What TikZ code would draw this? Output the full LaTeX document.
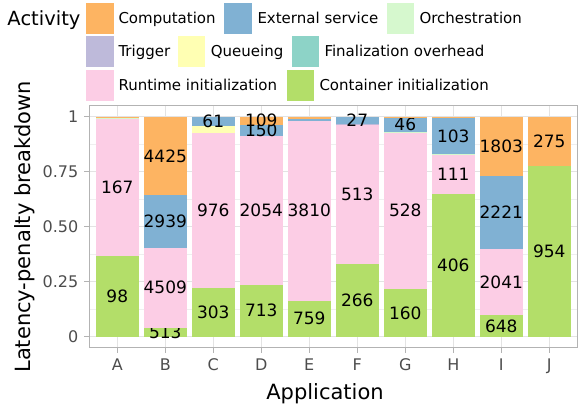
\documentclass[tikz,border=0pt]{standalone}
\usepackage{fontspec}
\setmainfont{DejaVu Sans}
\definecolor{ccomp}{HTML}{FDB462}
\definecolor{cext}{HTML}{80B1D3}
\definecolor{corch}{HTML}{D6F8CE}
\definecolor{ctrig}{HTML}{BEBADA}
\definecolor{cqueue}{HTML}{FFFFB3}
\definecolor{cfinal}{HTML}{8DD3C7}
\definecolor{crun}{HTML}{FCCDE5}
\definecolor{ccont}{HTML}{B3DE69}
\definecolor{gridmaj}{HTML}{E3E3E3}
\definecolor{gridmin}{HTML}{EFEFEF}
\definecolor{bordergray}{HTML}{B3B3B3}
\definecolor{ticktext}{HTML}{4D4D4D}
\newcommand\barat[1]{\pgfmathsetmacro\xl{117.3+48*#1-21.6}\pgfmathsetmacro\xr{117.3+48*#1+21.6}\pgfmathsetmacro\xc{117.3+48*#1}\def\cumv{0}}
\newcommand\settot[1]{\pgfmathsetmacro\tot{#1}}
\newcommand\segm[2]{%
  \pgfmathsetmacro\ya{336.7-220*(\cumv/\tot)}%
  \pgfmathsetmacro\cumnew{\cumv+#2}%
  \pgfmathsetmacro\yb{336.7-220*(\cumnew/\tot)}%
  \fill[#1] (\xl,\ya) rectangle (\xr,\yb);%
  \let\cumv\cumnew}
\newcommand\segl[3]{%
  \segm{#1}{#2}%
  \pgfmathsetmacro\ym{(\ya+\yb)/2+6.2}%
  \node[barlabel] (#3) at (\xc,\ym) {#2};}
\begin{document}
\begin{tikzpicture}[x=1pt,y=-1pt,
  barlabel/.style={font=\fontsize{17}{17}\selectfont, anchor=base, inner sep=0pt},
  legtext/.style={font=\fontsize{15}{15}\selectfont, anchor=base west, inner sep=0pt},
  legkey/.style={minimum width=27.3pt, minimum height=31pt, inner sep=0pt, anchor=north west},
  ticklab/.style={font=\fontsize{16}{16}\selectfont, text=ticktext, inner sep=0pt},
  axtitle/.style={font=\fontsize{21}{21}\selectfont, inner sep=0pt},
  gridmajor/.style={draw=gridmaj, line width=1pt},
  gridminor/.style={draw=gridmin, line width=0.7pt},
  tickmark/.style={draw=bordergray, line width=1pt}]
\useasboundingbox (0,0) rectangle (579,407);
% grid
\foreach \f in {0.125,0.375,0.625,0.875} \draw[gridminor] (89.3,{336.7-220*\f}) -- (577.3,{336.7-220*\f});
\foreach \f in {0,0.25,0.5,0.75,1} \draw[gridmajor] (89.3,{336.7-220*\f}) -- (577.3,{336.7-220*\f});
\foreach \i in {0,...,9} \draw[gridmajor] ({117.3+48*\i},105.7) -- ({117.3+48*\i},347.7);
% bars
\barat{0}\settot{268}
\segl{ccont}{98}{lA1}\segl{crun}{167}{lA2}\segm{corch}{1.4}\segm{ccomp}{1.6}
\barat{1}\settot{12386}
\segl{ccont}{513}{lB1}\segl{crun}{4509}{lB2}\segl{cext}{2939}{lB3}\segl{ccomp}{4425}{lB4}
\barat{2}\settot{1380}
\segl{ccont}{303}{lC1}\segl{crun}{976}{lC2}\segm{cqueue}{40}\segl{cext}{61}{lC3}
\barat{3}\settot{3026}
\segl{ccont}{713}{lD1}\segl{crun}{2054}{lD2}\segl{cext}{150}{lD3}\segl{ccomp}{109}{lD4}
\barat{4}\settot{4653}
\segl{ccont}{759}{lE1}\segl{crun}{3810}{lE2}\segm{cext}{35}\segm{ccomp}{49}
\barat{5}\settot{808}
\segl{ccont}{266}{lF1}\segl{crun}{513}{lF2}\segm{ctrig}{2}\segl{cext}{27}{lF3}
\barat{6}\settot{739.5}
\segl{ccont}{160}{lG1}\segl{crun}{528}{lG2}\segm{corch}{1.5}\segl{cext}{46}{lG3}\segm{ccomp}{4}
\barat{7}\settot{625}
\segl{ccont}{406}{lH1}\segl{crun}{111}{lH2}\segm{corch}{1}\segl{cext}{103}{lH3}\segm{ccomp}{4}
\barat{8}\settot{6713}
\segl{ccont}{648}{lI1}\segl{crun}{2041}{lI2}\segl{cext}{2221}{lI3}\segl{ccomp}{1803}{lI4}
\barat{9}\settot{1229}
\segl{ccont}{954}{lJ1}\segl{ccomp}{275}{lJ2}
% panel border
\draw[draw=bordergray, line width=1.3pt] (89.3,105.7) rectangle (577.3,347.7);
% y ticks
\foreach \f/\t in {0/0,0.25/0.25,0.5/0.50,0.75/0.75,1/1} {
  \draw[tickmark] (84,{336.7-220*\f}) -- (89.3,{336.7-220*\f});
  \node[ticklab, anchor=base east] (yt\t) at (78.5,{336.7-220*\f+5.8}) {\t};
}
% x ticks
\foreach \i/\t in {0/A,1/B,2/C,3/D,4/E,5/F,6/G,7/H,8/I,9/J} {
  \draw[tickmark] ({117.3+48*\i},347.7) -- ({117.3+48*\i},352.7);
  \node[ticklab, anchor=base] (xt\t) at ({117.3+48*\i},370) {\t};
}
% axis titles
\node[axtitle, anchor=base] (xtitle) at (325,399) {Application};
\node[axtitle, rotate=90] (ytitle) at (25,226.7) {Latency-penalty breakdown};
% legend
\node[font=\fontsize{19.5}{19.5}\selectfont, anchor=base west, inner sep=0pt] (legtitle) at (7.3,25) {Activity};
\node[legkey, fill=ccomp] (k1) at (86,2.3) {};
\node[legtext] (t1) at (118.3,23.3) {Computation};
\node[legkey, fill=cext] (k2) at (224,2.3) {};
\node[legtext] (t2) at (257.3,23.3) {External service};
\node[legkey, fill=corch] (k3) at (386.7,2.3) {};
\node[legtext] (t3) at (419.3,23.3) {Orchestration};
\node[legkey, fill=ctrig] (k4) at (86,36) {};
\node[legtext] (t4) at (118.3,56.8) {Trigger};
\node[legkey, fill=cqueue] (k5) at (177.7,36) {};
\node[legtext] (t5) at (210.7,56.8) {Queueing};
\node[legkey, fill=cfinal] (k6) at (291.7,36) {};
\node[legtext] (t6) at (324.3,56.8) {Finalization overhead};
\node[legkey, fill=crun] (k7) at (86,69.7) {};
\node[legtext] (t7) at (118.3,90.6) {Runtime initialization};
\node[legkey, fill=ccont] (k8) at (286.7,69.7) {};
\node[legtext] (t8) at (319.3,90.6) {Container initialization};
\end{tikzpicture}
\end{document}
